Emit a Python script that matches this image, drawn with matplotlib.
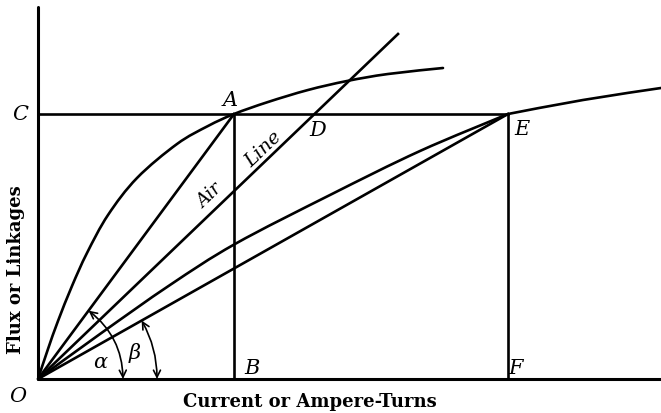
import numpy as np
import matplotlib
matplotlib.use('Agg')
import matplotlib.pyplot as plt
from matplotlib.patches import FancyArrowPatch, PathPatch
from matplotlib.path import Path

# magnetization curve through A (steep one)
curve1_x = [0, 10, 20, 34, 49, 70, 99, 139, 170, 196, 230, 270, 309, 350, 405]
curve1_y = [0, 30, 58, 93, 126, 164, 201, 235, 253, 265, 277, 289, 298, 305, 311]

# second curve, O to E
curve2_x = [0, 62, 132, 197, 292, 382, 470]
curve2_y = [0, 45, 94, 135, 184, 228, 265]

# its continuation beyond E
curve3_x = [470, 545, 623]
curve3_y = [265, 279, 291]

# points
point_A = (196, 265)
point_E = (470, 265)
air_end = (360, 345)

# angle arcs (radius)
alpha_r = 85
beta_r = 119


def smooth_path(xs, ys):
    # catmull-rom through the points, drawn as cubic bezier segments
    pts = np.column_stack([xs, ys]).astype(float)
    verts = [pts[0]]
    codes = [Path.MOVETO]
    n = len(pts)
    for i in range(n - 1):
        p0 = pts[i - 1] if i > 0 else pts[i]
        p1 = pts[i]
        p2 = pts[i + 1]
        p3 = pts[i + 2] if i + 2 < n else pts[i + 1]
        verts += [p1 + (p2 - p0) / 6, p2 - (p3 - p1) / 6, p2]
        codes += [Path.CURVE4] * 3
    return Path(verts, codes)


fig = plt.figure(figsize=(6.61, 4.14), dpi=100)
ax = fig.add_axes([38 / 661, 34 / 414, 623 / 661, 372 / 414])
ax.set_xlim(0, 623)
ax.set_ylim(0, 372)
ax.set_xticks([])
ax.set_yticks([])
for s in ['top', 'right']:
    ax.spines[s].set_visible(False)
for s in ['left', 'bottom']:
    ax.spines[s].set_linewidth(2.2)
    ax.spines[s].set_capstyle('round')

lw = 1.9
for cx, cy in [(curve1_x, curve1_y), (curve2_x, curve2_y), (curve3_x, curve3_y)]:
    ax.add_patch(PathPatch(smooth_path(cx, cy), fill=False, color='black', lw=lw,
                           capstyle='round', clip_on=False))

# straight lines from O
ax.plot([0, point_A[0]], [0, point_A[1]], color='black', lw=lw)
ax.plot([0, point_E[0]], [0, point_E[1]], color='black', lw=lw)
ax.plot([0, air_end[0]], [0, air_end[1]], color='black', lw=lw)

# horizontal C-E and verticals A-B, E-F
ax.plot([0, point_E[0]], [point_A[1], point_E[1]], color='black', lw=lw)
ax.plot([point_A[0], point_A[0]], [0, point_A[1]], color='black', lw=lw)
ax.plot([point_E[0], point_E[0]], [0, point_E[1]], color='black', lw=lw)


# angle arcs with arrows
def angle_arc(r, theta):
    p1 = (r, 0)
    p2 = (r * np.cos(theta), r * np.sin(theta))
    arr = FancyArrowPatch(p1, p2, connectionstyle=f"arc3,rad={np.tan(theta / 4)}",
                          arrowstyle='<->,head_length=5,head_width=2.5',
                          color='black', lw=1.2, shrinkA=0, shrinkB=0)
    ax.add_patch(arr)


angle_arc(alpha_r, np.arctan2(point_A[1], point_A[0]))
angle_arc(beta_r, np.arctan2(point_E[1], point_E[0]))

# letters
lab = dict(fontsize=15, family='DejaVu Serif', style='italic', ha='center', va='center', clip_on=False)
ax.text(-18, 265, 'C', **lab)
ax.text(192, 279, 'A', **lab)
ax.text(280, 249, 'D', **lab)
ax.text(484, 250, 'E', **lab)
ax.text(214, 11, 'B', **lab)
ax.text(478, 11, 'F', **lab)
ax.text(-20, -17, 'O', **lab)
ax.text(62, 17, 'α', **lab)
ax.text(97, 27, 'β', **lab)

rot = np.degrees(np.arctan2(air_end[1], air_end[0]))
ax.text(172, 184, 'Air', fontsize=13, family='DejaVu Serif', style='italic',
        rotation=rot, ha='center', va='center')
ax.text(225, 231, 'Line', fontsize=14, family='DejaVu Serif', style='italic',
        rotation=rot, ha='center', va='center')

ax.text(-22, 110, 'Flux or Linkages', fontsize=13, family='DejaVu Serif', weight='bold',
        rotation=90, ha='center', va='center', clip_on=False)
ax.text(272, -22, 'Current or Ampere-Turns', fontsize=13, family='DejaVu Serif', weight='bold',
        ha='center', va='center', clip_on=False)

fig.savefig('out.png', dpi=100)
